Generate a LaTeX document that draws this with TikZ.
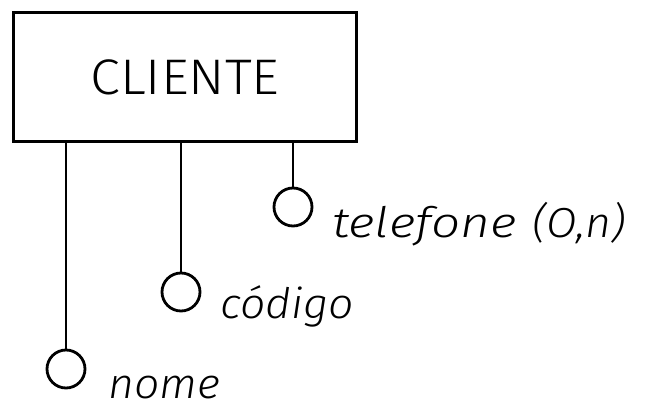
\documentclass[tikz,border=0pt]{standalone}
\usepackage{fontspec}
\setmainfont{Fira Sans Light}
\newfontfamily\entfont{Fira Sans Light}[FakeStretch=1.08]
\newfontfamily\labfont{Fira Sans Light Italic}[FakeStretch=1.06]
\newfontfamily\labwide{Fira Sans Light Italic}[FakeStretch=1.22]
\begin{document}
\begin{tikzpicture}[x=1pt,y=-1pt,
  entity/.style={draw,line width=2.8pt,minimum width=343pt,minimum height=129pt,inner sep=0pt,font=\entfont\fontsize{50}{60}\selectfont},
  attr/.style={draw,circle,line width=2.8pt,minimum size=38pt,inner sep=0pt},
  lab/.style={anchor=base west,inner sep=0pt,font=\labfont\fontsize{42}{50}\selectfont},
  link/.style={line width=2.8pt}]
\useasboundingbox (0,0) rectangle (648,414);
\node[entity] (cli) at (185,77) {CLIENTE};
\node[attr] (a1) at (293,207) {};
\node[attr] (a2) at (181,292) {};
\node[attr] (a3) at (66,369) {};
\draw[link] (a1 |- cli.south) -- (a1.north);
\draw[link] (a2 |- cli.south) -- (a2.north);
\draw[link] (a3 |- cli.south) -- (a3.north);
\node[lab] (l1) at (332,238) {{\labwide telefone}\hspace{4pt} (O,n)};
\node[lab] (l2) at (220,318) {código};
\node[lab] (l3) at (108,398) {nome};
\end{tikzpicture}
\end{document}
